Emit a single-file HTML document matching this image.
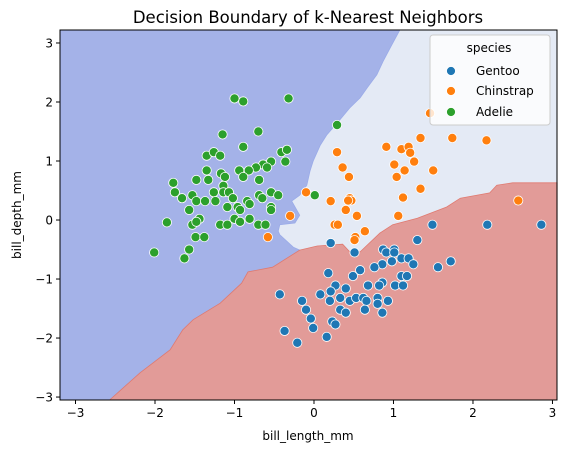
<!DOCTYPE html>
<html><head><meta charset="utf-8"><style>
body{margin:0;background:#fff;font-family:"DejaVu Sans","Liberation Sans",sans-serif;}
svg text{font-family:"DejaVu Sans","Liberation Sans",sans-serif;fill:#000;}
</style></head><body>
<svg id="chart" width="567" height="453" viewBox="0 0 567 453" xmlns="http://www.w3.org/2000/svg">
<text x="308" y="23" font-size="16.5" text-anchor="middle">Decision Boundary of k-Nearest Neighbors</text>
<g id="regions"></g>
<g id="points"></g>
<g id="axes"></g>
<g>
<rect x="430" y="35" width="120" height="90" rx="3" fill="#fff" fill-opacity="0.8" stroke="#ccc" stroke-width="1"/>
<text x="489" y="52" font-size="12" text-anchor="middle">species</text>
<g><circle cx="451" cy="71" r="4.5" fill="#1f77b4" stroke="#fff" stroke-width="0.8"/><text x="476" y="75" font-size="12">Gentoo</text></g>
<g><circle cx="451" cy="91" r="4.5" fill="#ff7f0e" stroke="#fff" stroke-width="0.8"/><text x="476" y="95" font-size="12">Chinstrap</text></g>
<g><circle cx="451" cy="112" r="4.5" fill="#2ca02c" stroke="#fff" stroke-width="0.8"/><text x="476" y="116" font-size="12">Adelie</text></g>
</g>
<text x="308" y="440" font-size="12" text-anchor="middle">bill_length_mm</text>
<text x="0" y="0" font-size="12" text-anchor="middle" transform="translate(21,215) rotate(-90)">bill_depth_mm</text>
</svg>
<script>
const xTicks=[-3,-2,-1,0,1,2,3];
const yTicks=[-3,-2,-1,0,1,2,3];
const gentooX=[1.49,2.18,2.86,1.30,0.21,0.51,0.87,0.91,1.01,1.01,1.10,1.19,1.25,0.98,0.86,0.76,1.56,1.72,0.18,0.58,0.49,1.10,1.17,0.86,0.82,0.68,1.02,1.12,0.27,0.40,0.21,0.08,-0.43,-0.15,0.20,0.33,0.45,0.53,0.62,0.66,0.80,0.80,0.93,-0.10,0.33,0.40,0.64,0.86,-0.04,0.23,0.27,-0.01,-0.37,0.16,-0.21];
const gentooY=[-0.08,-0.08,-0.08,-0.34,-0.39,-0.55,-0.50,-0.55,-0.50,-0.55,-0.65,-0.65,-0.75,-0.70,-0.75,-0.80,-0.80,-0.70,-0.90,-0.85,-0.95,-0.95,-0.95,-1.06,-1.11,-1.11,-1.11,-1.11,-1.11,-1.16,-1.21,-1.26,-1.26,-1.37,-1.37,-1.32,-1.37,-1.32,-1.32,-1.37,-1.32,-1.42,-1.37,-1.52,-1.52,-1.57,-1.52,-1.57,-1.67,-1.72,-1.77,-1.83,-1.88,-1.98,-2.08];
const chinstrapX=[-0.10,0.21,0.29,-0.30,-0.58,0.26,0.30,1.46,1.34,1.74,2.17,0.91,1.10,1.19,1.21,1.26,1.01,1.50,0.36,1.14,0.44,1.04,1.34,1.12,0.45,0.47,0.43,2.57,0.40,0.54,1.06,0.64,0.52,0.51];
const chinstrapY=[0.47,0.32,1.15,0.07,-0.29,-0.08,-0.08,1.81,1.39,1.39,1.35,1.24,1.20,1.24,1.14,0.99,0.94,0.84,0.89,0.84,0.73,0.73,0.53,0.38,0.37,0.33,0.33,0.33,0.17,0.07,0.07,-0.19,-0.29,-0.34];
const adelieX=[-1.00,-0.89,-0.32,-1.15,-0.70,-0.89,-1.35,-1.26,-1.18,-0.41,-0.34,-0.36,-0.54,-0.64,-0.59,-0.73,-0.82,-0.94,-0.89,-1.35,-1.17,-1.12,-1.33,-1.48,-1.77,-0.69,-1.14,-1.75,-1.66,-1.53,-1.48,-1.37,-1.26,-1.24,-1.14,-1.07,-1.02,-0.69,-0.65,-0.54,-0.45,0.01,-1.57,-1.09,-0.96,-0.93,-0.84,-0.81,-0.54,-0.54,-1.85,-1.44,-1.53,-1.48,-1.18,-1.09,-1.00,-0.93,-0.81,-0.70,-0.61,-1.49,-1.38,-2.01,-1.57,-1.63,0.29];
const adelieY=[2.06,2.01,2.06,1.45,1.50,1.24,1.09,1.15,1.09,1.15,1.19,0.99,0.99,0.94,0.89,0.89,0.84,0.84,0.73,0.84,0.79,0.73,0.68,0.68,0.63,0.68,0.58,0.47,0.37,0.42,0.32,0.32,0.47,0.32,0.47,0.47,0.37,0.42,0.37,0.47,0.42,0.42,0.17,0.22,0.22,0.17,0.32,0.27,0.22,0.17,-0.04,0.02,-0.08,-0.03,-0.08,-0.08,0.02,-0.03,0.02,-0.08,-0.08,-0.29,-0.29,-0.55,-0.50,-0.65,1.61];
// decision boundaries (data units)
const adelieEdgeX=[1.08,0.96,0.87,0.79,0.67,0.58,0.45,0.29,0.16,0.08,-0.01,-0.05,-0.09,-0.18,-0.28,-0.18,-0.24,-0.43,-0.45,-0.43,-0.26,-0.18];
const adelieEdgeY=[3.22,2.92,2.69,2.46,2.24,2.07,1.90,1.64,1.44,1.27,1.00,0.83,0.59,0.42,0.32,0.08,-0.05,-0.08,-0.19,-0.25,-0.46,-0.51];
const lowerLeftEdgeX=[-0.52,-0.83,-0.91,-1.18,-1.52,-1.65,-1.81,-2.19,-2.57];
const lowerLeftEdgeY=[-0.80,-0.88,-1.07,-1.41,-1.69,-1.86,-2.20,-2.59,-3.05];
const gentooEdgeX=[0.04,0.36,0.45,0.58,0.83,0.99,1.30,1.67,1.84,2.21,2.30,2.50,3.06];
const gentooEdgeY=[-0.44,-0.41,-0.54,-0.54,-0.22,-0.08,0.03,0.22,0.37,0.46,0.59,0.63,0.63];

const X0=60,X1=557,Y0=30,Y1=400;
const xMin=-3.195,xMax=3.057,yMin=-3.05,yMax=3.22;
const sx=v=>X0+(v-xMin)/(xMax-xMin)*(X1-X0);
const sy=v=>Y1-(v-yMin)/(yMax-yMin)*(Y1-Y0);
const NS='http://www.w3.org/2000/svg';
const mk=(t,a,p)=>{const e=document.createElementNS(NS,t);for(const k in a)e.setAttribute(k,a[k]);p.appendChild(e);return e;};
const pts=(xs,ys)=>xs.map((x,i)=>sx(x).toFixed(1)+','+sy(ys[i]).toFixed(1));

const R=document.getElementById('regions');
const bg=mk('rect',{x:X0,y:Y0,width:X1-X0,height:Y1-Y0,fill:'#e4eaf5'},R);


const bluePts=[sx(xMin)+','+sy(yMax)].concat(pts(adelieEdgeX,adelieEdgeY),pts(lowerLeftEdgeX,lowerLeftEdgeY),[sx(xMin)+','+sy(yMin)]);
const bp=mk('polygon',{points:bluePts.join(' '),fill:'#a4b2e8',stroke:'#9aabe8',"stroke-width":0.8},R);


const jx=adelieEdgeX[adelieEdgeX.length-1],jy=adelieEdgeY[adelieEdgeY.length-1];
const redPts=[sx(jx)+','+sy(jy)].concat(pts(gentooEdgeX,gentooEdgeY),[sx(xMax)+','+sy(yMin)],pts(lowerLeftEdgeX.slice().reverse(),lowerLeftEdgeY.slice().reverse()));
const rp=mk('polygon',{points:redPts.join(' '),fill:'#e29b98',stroke:'#e07a70',"stroke-width":0.8},R);



const P=document.getElementById('points');
function series(xs,ys,color,name){
  xs.forEach((x,i)=>{
    const c=mk('circle',{cx:sx(x),cy:sy(ys[i]),r:4.6,fill:color,stroke:'#fff','stroke-width':0.8},P);
    
    
  });
}
series(adelieX,adelieY,'#2ca02c','adelie-point');
series(chinstrapX,chinstrapY,'#ff7f0e','chinstrap-point');
series(gentooX,gentooY,'#1f77b4','gentoo-point');

const A=document.getElementById('axes');
const fr=mk('rect',{x:X0,y:Y0,width:X1-X0,height:Y1-Y0,fill:'none',stroke:'#000','stroke-width':1},A);


xTicks.forEach(t=>{
  const x=sx(t);
  mk('line',{x1:x,x2:x,y1:Y1,y2:Y1+4,stroke:'#000'},A);
  const tx=mk('text',{x:x,y:Y1+17,'font-size':12,'text-anchor':'middle'},A);
  tx.textContent=(t<0?'\u2212'+(-t):t);
  
  
});
yTicks.forEach(t=>{
  const y=sy(t);
  mk('line',{x1:X0-4,x2:X0,y1:y,y2:y,stroke:'#000'},A);
  const tx=mk('text',{x:X0-7,y:y+4.5,'font-size':12,'text-anchor':'end'},A);
  tx.textContent=(t<0?'\u2212'+(-t):t);
  
  
});
</script>
</body></html>
